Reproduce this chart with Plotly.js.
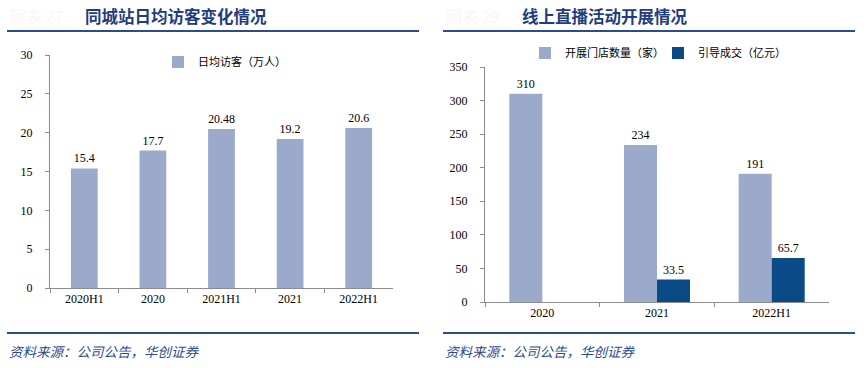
<!DOCTYPE html>
<html>
<head>
<meta charset="utf-8">
<script src="https://cdn.plot.ly/plotly-3.0.1.min.js"></script>
<style>
html,body{margin:0;padding:0;background:#fff;}
#chart{width:866px;height:368px;}
</style>
</head>
<body>
<div id="chart"></div>
<script>
// Left chart data
const leftCategories = ['2020H1', '2020', '2021H1', '2021', '2022H1'];
const dailyVisitors = [15.4, 17.7, 20.48, 19.2, 20.6];
const dailyVisitorsName = '日均访客（万人）';

// Right chart data
const rightCategories = ['2020', '2021', '2022H1'];
const storeCount = [310, 234, 191];
const storeCountName = '开展门店数量（家）';
const dealValue = [null, 33.5, 65.7];
const dealValueName = '引导成交（亿元）';

const leftTitle = '同城站日均访客变化情况';
const rightTitle = '线上直播活动开展情况';
const sourceText = '资料来源：公司公告，华创证券';
const leftTag = '图表 27';
const rightTag = '图表 29';

const LIGHT = '#9BA9CB';
const DARK = '#0A4A86';
const NAVY = '#1F3C7E';
const serif = '"Liberation Serif", "Times New Roman", serif';
const cjk = '"Noto Sans CJK SC", sans-serif';
const numFont = {family: serif + ', ' + cjk, size: 12, color: '#000'};

const W = 866, H = 368;
const px = x => x / W;
const py = y => 1 - y / H;

const traces = [
  {
    type: 'bar', x: leftCategories, y: dailyVisitors, name: dailyVisitorsName,
    xaxis: 'x', yaxis: 'y', legend: 'legend',
    marker: {color: LIGHT}, width: 0.39, offset: -0.195,
    text: dailyVisitors.map(String), textposition: 'outside',
    textfont: numFont, cliponaxis: false, hoverinfo: 'x+y'
  },
  {
    type: 'bar', x: rightCategories, y: storeCount, name: storeCountName,
    xaxis: 'x2', yaxis: 'y2', legend: 'legend2',
    marker: {color: LIGHT}, width: 0.288, offset: -0.288,
    text: storeCount.map(String), textposition: 'outside',
    textfont: numFont, cliponaxis: false
  },
  {
    type: 'bar', x: rightCategories, y: dealValue, name: dealValueName,
    xaxis: 'x2', yaxis: 'y2', legend: 'legend2',
    marker: {color: DARK}, width: 0.288, offset: 0,
    text: dealValue.map(v => v == null ? '' : String(v)), textposition: 'outside',
    textfont: numFont, cliponaxis: false
  }
];

const axisCommon = {
  showgrid: false, zeroline: false, showline: true, linecolor: '#8c8c8c', linewidth: 1,
  ticks: 'outside', ticklen: 4, tickcolor: '#8c8c8c',
  tickfont: numFont, fixedrange: true
};

const layout = {
  width: W, height: H,
  margin: {l: 0, r: 0, t: 0, b: 0},
  paper_bgcolor: '#fff', plot_bgcolor: '#fff',
  barmode: 'overlay',
  font: {family: cjk, color: '#000'},
  xaxis: Object.assign({}, axisCommon, {
    domain: [px(50), px(393)], anchor: 'y', type: 'category', tickson: 'boundaries'
  }),
  yaxis: Object.assign({}, axisCommon, {
    domain: [py(288), py(55)], anchor: 'x', range: [0, 30], dtick: 5, ticklabelstandoff: 10
  }),
  xaxis2: Object.assign({}, axisCommon, {
    domain: [px(485), px(829)], anchor: 'y2', type: 'category', tickson: 'boundaries'
  }),
  yaxis2: Object.assign({}, axisCommon, {
    domain: [py(302), py(67)], anchor: 'x2', range: [0, 350], dtick: 50, ticklabelstandoff: 10
  }),
  legend: {
    orientation: 'h', x: px(158), y: py(62), xanchor: 'left', yanchor: 'middle',
    font: {family: cjk, size: 11, color: '#000'}, bgcolor: 'rgba(0,0,0,0)', itemwidth: 30
  },
  legend2: {
    orientation: 'h', x: px(525), y: py(53), xanchor: 'left', yanchor: 'middle',
    font: {family: cjk, size: 11, color: '#000'}, bgcolor: 'rgba(0,0,0,0)', itemwidth: 30,
    entrywidth: 88
  },
  showlegend: true,
  shapes: [
    {type: 'line', xref: 'paper', yref: 'paper', x0: px(7), x1: px(419), y0: py(31), y1: py(31), line: {color: '#2B4C8E', width: 2}},
    {type: 'line', xref: 'paper', yref: 'paper', x0: px(443), x1: px(855), y0: py(31), y1: py(31), line: {color: '#2B4C8E', width: 2}},
    {type: 'line', xref: 'paper', yref: 'paper', x0: px(7), x1: px(419), y0: py(333), y1: py(333), line: {color: '#2B4C8E', width: 2}},
    {type: 'line', xref: 'paper', yref: 'paper', x0: px(443), x1: px(855), y0: py(333), y1: py(333), line: {color: '#2B4C8E', width: 2}}
  ],
  annotations: [
    {text: leftTag, xref: 'paper', yref: 'paper', x: px(8), y: py(16), xanchor: 'left', yanchor: 'middle', showarrow: false, font: {family: cjk, size: 16, color: '#f7f7f7'}},
    {text: rightTag, xref: 'paper', yref: 'paper', x: px(444), y: py(16), xanchor: 'left', yanchor: 'middle', showarrow: false, font: {family: cjk, size: 16, color: '#f7f7f7'}},
    {text: '<b>' + leftTitle + '</b>', xref: 'paper', yref: 'paper', x: px(83), y: py(16), xanchor: 'left', yanchor: 'middle', showarrow: false, font: {family: cjk, size: 16.5, color: NAVY}},
    {text: '<b>' + rightTitle + '</b>', xref: 'paper', yref: 'paper', x: px(520), y: py(16), xanchor: 'left', yanchor: 'middle', showarrow: false, font: {family: cjk, size: 16.5, color: NAVY}},
    {text: '<i>' + sourceText + '</i>', xref: 'paper', yref: 'paper', x: px(7), y: py(351), xanchor: 'left', yanchor: 'middle', showarrow: false, font: {family: cjk, size: 13.5, color: '#2B4C8E'}},
    {text: '<i>' + sourceText + '</i>', xref: 'paper', yref: 'paper', x: px(443), y: py(351), xanchor: 'left', yanchor: 'middle', showarrow: false, font: {family: cjk, size: 13.5, color: '#2B4C8E'}}
  ]
};

Plotly.newPlot('chart', traces, layout, {displayModeBar: false, staticPlot: true});
</script>
</body>
</html>
